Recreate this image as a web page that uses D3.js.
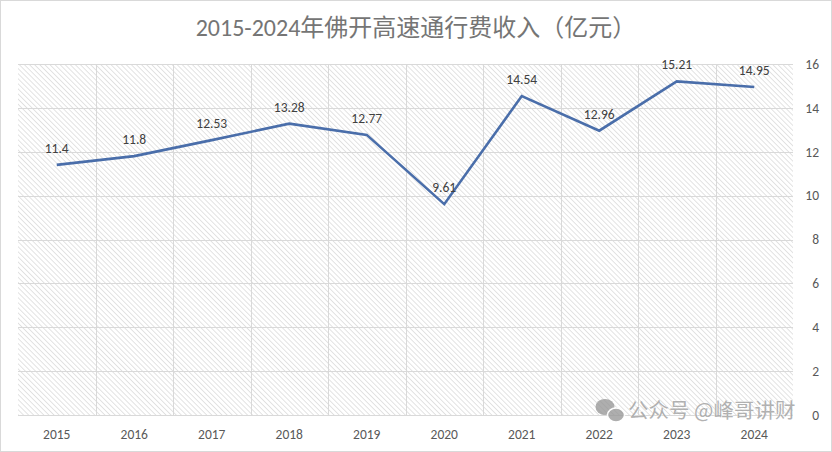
<!DOCTYPE html>
<html>
<head>
<meta charset="utf-8">
<script src="https://cdn.jsdelivr.net/npm/d3@7"></script>
<style>
  body { margin: 0; background: #fff; }
  svg { display: block; }
</style>
</head>
<body>
<div id="chart"></div>
<script>
// data
const years = ["2015","2016","2017","2018","2019","2020","2021","2022","2023","2024"];
const revenue = [11.4, 11.8, 12.53, 13.28, 12.77, 9.61, 14.54, 12.96, 15.21, 14.95];
const yTicks = [0, 2, 4, 6, 8, 10, 12, 14, 16];
const titleText = "2015-2024年佛开高速通行费收入（亿元）";

const W = 832, H = 452;
const p = { top: 64, right: 39, bottom: 37, left: 18 };
const w = W - p.left - p.right, h = H - p.top - p.bottom;
const latin = "Carlito, 'Liberation Sans Narrow', 'Noto Sans CJK SC', sans-serif";

const svg = d3.select("#chart").append("svg")
  .attr("width", W).attr("height", H);

// outer frame
svg.append("rect")
  .attr("x", 0.5).attr("y", 0.5)
  .attr("width", W - 1).attr("height", H - 1)
  .attr("fill", "#fff").attr("stroke", "#d9d9d9");

// hatch pattern
const pat = svg.append("defs").append("pattern")
  .attr("id", "hatch")
  .attr("patternUnits", "userSpaceOnUse")
  .attr("width", 3.6).attr("height", 3.6)
  .attr("patternTransform", "rotate(-45)");
pat.append("rect").attr("width", 3.6).attr("height", 3.6).attr("fill", "#fff");
pat.append("line")
  .attr("x1", 0).attr("y1", 0).attr("x2", 0).attr("y2", 3.6)
  .attr("stroke", "#dadada").attr("stroke-width", 1.5);

const g = svg.append("g").attr("transform", `translate(${p.left},${p.top})`);

g.append("rect").attr("width", w).attr("height", h).attr("fill", "url(#hatch)");

// scales
const x = d3.scaleBand().domain(years).range([0, w]);
const y = d3.scaleLinear().domain([0, 16]).range([h, 0]);
const cx = d => x(d) + x.bandwidth() / 2;

// grid
g.append("g").selectAll("line")
  .data(yTicks)
  .enter().append("line")
  .attr("x1", 0).attr("x2", w)
  .attr("y1", d => Math.round(y(d)) + 0.5).attr("y2", d => Math.round(y(d)) + 0.5)
  .attr("stroke", "#d9d9d9");

g.append("g").selectAll("line")
  .data(years.slice(1))
  .enter().append("line")
  .attr("x1", d => Math.round(x(d)) + 0.5).attr("x2", d => Math.round(x(d)) + 0.5)
  .attr("y1", 0).attr("y2", h)
  .attr("stroke", "#d9d9d9");

// axes
const yAxis = g.append("g")
  .attr("transform", `translate(${w},0)`)
  .call(d3.axisRight(y).tickValues(yTicks).tickSize(0).tickPadding(26));
yAxis.select(".domain").remove();
yAxis.selectAll("text")
  .attr("text-anchor", "end")
  .attr("font-family", latin).attr("font-size", 13.5).attr("fill", "#595959");

const xAxis = g.append("g")
  .attr("transform", `translate(0,${h})`)
  .call(d3.axisBottom(x).tickSize(0).tickPadding(14));
xAxis.select(".domain").remove();
xAxis.selectAll("text")
  .attr("font-family", latin).attr("font-size", 13.5).attr("fill", "#595959");

// line
const line = d3.line().x((d, i) => cx(years[i])).y(d => y(d));
g.append("path")
  .datum(revenue)
  .attr("d", line)
  .attr("fill", "none")
  .attr("stroke", "#4a6eaa")
  .attr("stroke-width", 2.6)
  .attr("stroke-linejoin", "miter");

// data labels
g.append("g").selectAll("text")
  .data(revenue)
  .enter().append("text")
  .attr("x", (d, i) => cx(years[i]))
  .attr("y", d => y(d) - 12)
  .attr("text-anchor", "middle")
  .attr("font-family", latin).attr("font-size", 13.5).attr("fill", "#404040")
  .text(d => d);

// title
svg.append("text")
  .attr("x", W / 2).attr("y", 36)
  .attr("text-anchor", "middle")
  .attr("font-family", latin).attr("font-size", 24).attr("fill", "#757575")
  .text(titleText);

// watermark
const wm = svg.append("g").attr("opacity", 0.8);
wm.append("ellipse").attr("cx", 605).attr("cy", 407).attr("rx", 9.5).attr("ry", 8).attr("fill", "#9a9a9a");
wm.append("ellipse").attr("cx", 616).attr("cy", 415).attr("rx", 8.5).attr("ry", 7)
  .attr("fill", "#9a9a9a").attr("stroke", "#fff").attr("stroke-width", 1.5);
wm.append("text")
  .attr("x", 628).attr("y", 418)
  .attr("font-family", "'Noto Sans CJK SC', sans-serif").attr("font-size", 20.5)
  .attr("fill", "#a0a0a0").attr("stroke", "#fff").attr("stroke-width", 0.8)
  .attr("paint-order", "stroke")
  .text("公众号 @峰哥讲财");
</script>
</body>
</html>
